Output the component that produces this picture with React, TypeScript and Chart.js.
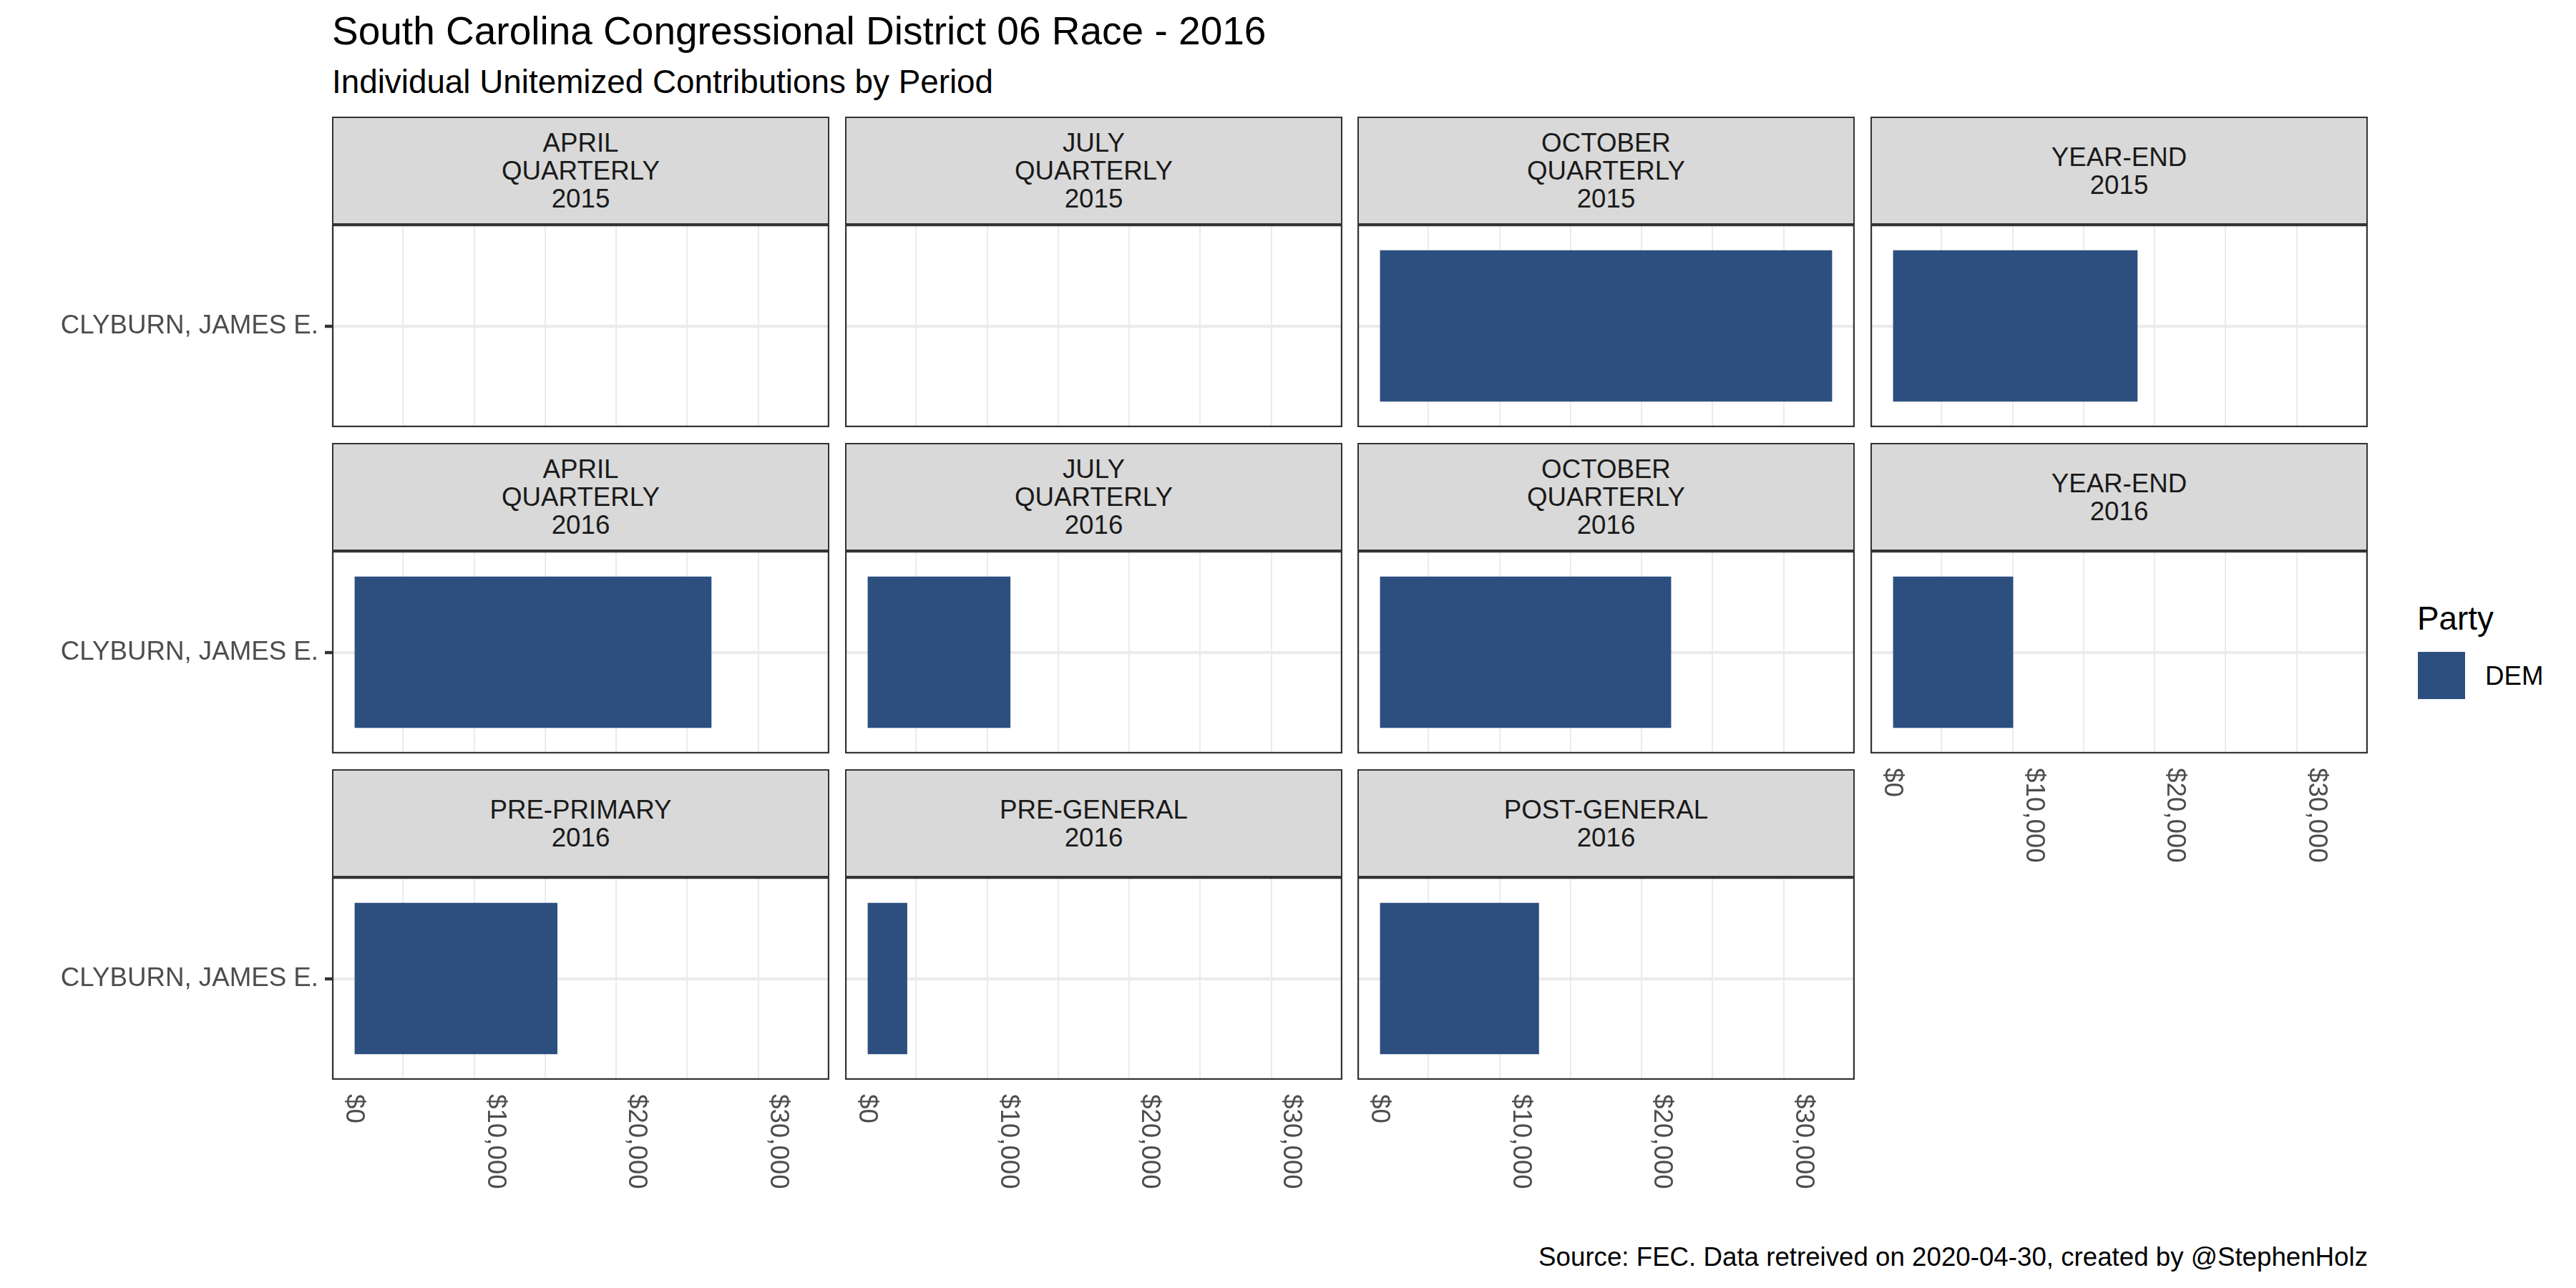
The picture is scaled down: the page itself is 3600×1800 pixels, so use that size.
import React, { useEffect, useRef } from 'react';
import { Chart, registerables } from 'chart.js';

Chart.register(...registerables);

const FONT = "'Liberation Sans', Arial, Helvetica, sans-serif";

// ---------------- data ----------------
const titleText = 'South Carolina Congressional District 06 Race - 2016';
const subtitleText = 'Individual Unitemized Contributions by Period';
const captionText = 'Source: FEC. Data retreived on 2020-04-30, created by @StephenHolz';
const legendTitle = 'Party';

const candidates = ['CLYBURN, JAMES E.'];
const periodLabels = [
  'APRIL\nQUARTERLY\n2015',
  'JULY\nQUARTERLY\n2015',
  'OCTOBER\nQUARTERLY\n2015',
  'YEAR-END\n2015',
  'APRIL\nQUARTERLY\n2016',
  'JULY\nQUARTERLY\n2016',
  'OCTOBER\nQUARTERLY\n2016',
  'YEAR-END\n2016',
  'PRE-PRIMARY\n2016',
  'PRE-GENERAL\n2016',
  'POST-GENERAL\n2016',
];
const demContributions: (number | null)[] = [
  null, null, 31990, 17300,
  25250, 10100, 20600, 8500,
  14350, 2800, 11250,
];
const xTickValues = [0, 10000, 20000, 30000];
const xTickLabels = ['$0', '$10,000', '$20,000', '$30,000'];
const partyNames = ['DEM'];
const partyColors = ['#2C4F7F'];

// ---------------- layout ----------------
const NCOL = 4;
const COL_LEFT0 = 464;
const COL_W = 695;
const COL_PITCH = 716.67;
const ROW_TOP0 = 163;
const STRIP_H = 151;
const PANEL_H = 283;
const ROW_PITCH = 456;
const AXIS_EXTRA = 190;

const colLeft = (c: number) => Math.round(COL_LEFT0 + c * COL_PITCH);

const maxVal = Math.max(...(demContributions.filter((v) => v != null) as number[]));
const xMin = -0.05 * maxVal;
const xMax = 1.05 * maxVal;

const isMajor = (v: number) => Math.abs(v % 10000) < 1e-6;

const panelDeco = {
  id: 'panelDeco',
  afterDatasetsDraw(chart: any) {
    const { ctx, chartArea: a } = chart;
    ctx.save();
    ctx.beginPath();
    ctx.rect(a.left, a.top, a.right - a.left, a.bottom - a.top);
    ctx.clip();
    ctx.strokeStyle = '#333333';
    ctx.lineWidth = 4.4;
    ctx.strokeRect(a.left, a.top, a.right - a.left, a.bottom - a.top);
    ctx.restore();
  },
  afterDraw(chart: any, _args: any, opts: any) {
    if (!opts || !opts.bottom) return;
    const { ctx, chartArea: a } = chart;
    const xs = chart.scales.x;
    ctx.save();
    ctx.font = `36.7px ${FONT}`;
    ctx.fillStyle = '#4D4D4D';
    ctx.textAlign = 'left';
    ctx.textBaseline = 'middle';
    xTickValues.forEach((v, i) => {
      const px = xs.getPixelForValue(v);
      ctx.save();
      ctx.translate(px - 1, a.bottom + 20);
      ctx.rotate(Math.PI / 2);
      ctx.fillText(xTickLabels[i], 0, 0);
      ctx.restore();
    });
    ctx.restore();
  },
};

function Panel({ index }: { index: number }) {
  const ref = useRef<HTMLCanvasElement | null>(null);
  const col = index % NCOL;
  const row = Math.floor(index / NCOL);
  const isFirstCol = col === 0;
  const isBottom = index + NCOL >= periodLabels.length;
  const left = colLeft(col);
  const panelTop = ROW_TOP0 + row * ROW_PITCH + STRIP_H;
  const padL = isFirstCol ? left : 0;
  const padB = isBottom ? AXIS_EXTRA : 0;
  const w = padL + COL_W;
  const h = PANEL_H + padB;

  useEffect(() => {
    if (!ref.current) return;
    const chart = new Chart(ref.current, {
      type: 'bar',
      data: {
        labels: candidates,
        datasets: [
          {
            label: partyNames[0],
            data: [demContributions[index]],
            backgroundColor: partyColors[0],
            borderWidth: 0,
            categoryPercentage: 1,
            barPercentage: 0.747,
          } as any,
        ],
      },
      options: {
        animation: false,
        responsive: false,
        devicePixelRatio: 1,
        indexAxis: 'y',
        layout: { padding: 0 },
        plugins: {
          legend: { display: false },
          tooltip: { enabled: false },
          panelDeco: { bottom: isBottom },
        } as any,
        scales: {
          x: {
            type: 'linear',
            min: xMin,
            max: xMax,
            bounds: 'data',
            ticks: { display: false, stepSize: 5000, includeBounds: false },
            grid: {
              color: '#EBEBEB',
              lineWidth: (c: any) => (c.tick && isMajor(c.tick.value) ? 4 : 2),
              drawTicks: isBottom,
              tickLength: 10,
              tickWidth: 4.4,
              tickColor: (c: any) => (c.tick && isMajor(c.tick.value) ? '#333333' : 'rgba(0,0,0,0)'),
            },
            border: { display: false },
            afterFit: (s: any) => {
              s.height = padB;
              s.paddingLeft = 0;
              s.paddingRight = 0;
            },
          },
          y: {
            type: 'category',
            offset: true,
            ticks: {
              display: isFirstCol,
              font: { family: FONT, size: 36.7 },
              color: '#4D4D4D',
              padding: 9,
            },
            grid: {
              offset: false,
              color: '#EBEBEB',
              lineWidth: 4,
              drawTicks: isFirstCol,
              tickLength: 10,
              tickWidth: 4.4,
              tickColor: '#333333',
            },
            border: { display: false },
            afterFit: (s: any) => {
              s.width = padL;
              s.paddingTop = 0;
              s.paddingBottom = 0;
            },
          },
        } as any,
      },
      plugins: [panelDeco],
    } as any);
    return () => chart.destroy();
  }, [index]);

  return (
    <canvas
      ref={ref}
      width={w}
      height={h}
      style={{ position: 'absolute', left: left - padL, top: panelTop, width: w, height: h, display: 'block' }}
    />
  );
}

function Strip({ index }: { index: number }) {
  const col = index % NCOL;
  const row = Math.floor(index / NCOL);
  return (
    <div
      style={{
        position: 'absolute',
        left: colLeft(col),
        top: ROW_TOP0 + row * ROW_PITCH,
        width: COL_W,
        height: STRIP_H,
        boxSizing: 'border-box',
        border: '2.2px solid #333333',
        background: '#D9D9D9',
        display: 'flex',
        alignItems: 'center',
        justifyContent: 'center',
        textAlign: 'center',
        whiteSpace: 'pre-line',
        fontFamily: FONT,
        fontSize: 36.7,
        lineHeight: '39px',
        color: '#1A1A1A',
      }}
    >
      {periodLabels[index]}
    </div>
  );
}

function Text({ x, baseline, size, text, align = 'left', color = '#000000' }: any) {
  const top = baseline - 0.8465 * size;
  const style: any = {
    position: 'absolute',
    top,
    fontFamily: FONT,
    fontSize: size,
    lineHeight: `${size}px`,
    color,
    whiteSpace: 'nowrap',
  };
  if (align === 'right') style.right = 3600 - x;
  else style.left = x;
  return <div style={style}>{text}</div>;
}

export default function App() {
  return (
    <div
      style={{
        position: 'absolute',
        left: 0,
        top: 0,
        width: 3600,
        height: 1800,
        background: '#FFFFFF',
        overflow: 'hidden',
      }}
    >
      <Text x={464} baseline={63} size={55} text={titleText} />
      <Text x={464} baseline={131} size={45.8} text={subtitleText} />
      {periodLabels.map((_, i) => (
        <Strip key={'s' + i} index={i} />
      ))}
      {periodLabels.map((_, i) => (
        <Panel key={'p' + i} index={i} />
      ))}
      <Text x={3378} baseline={881} size={45.8} text={legendTitle} />
      <div
        style={{
          position: 'absolute',
          left: 3379,
          top: 911,
          width: 66,
          height: 66,
          background: partyColors[0],
        }}
      />
      <Text x={3473} baseline={958} size={36.7} text={partyNames[0]} />
      <Text x={3309} baseline={1770} size={36.7} text={captionText} align="right" />
    </div>
  );
}
